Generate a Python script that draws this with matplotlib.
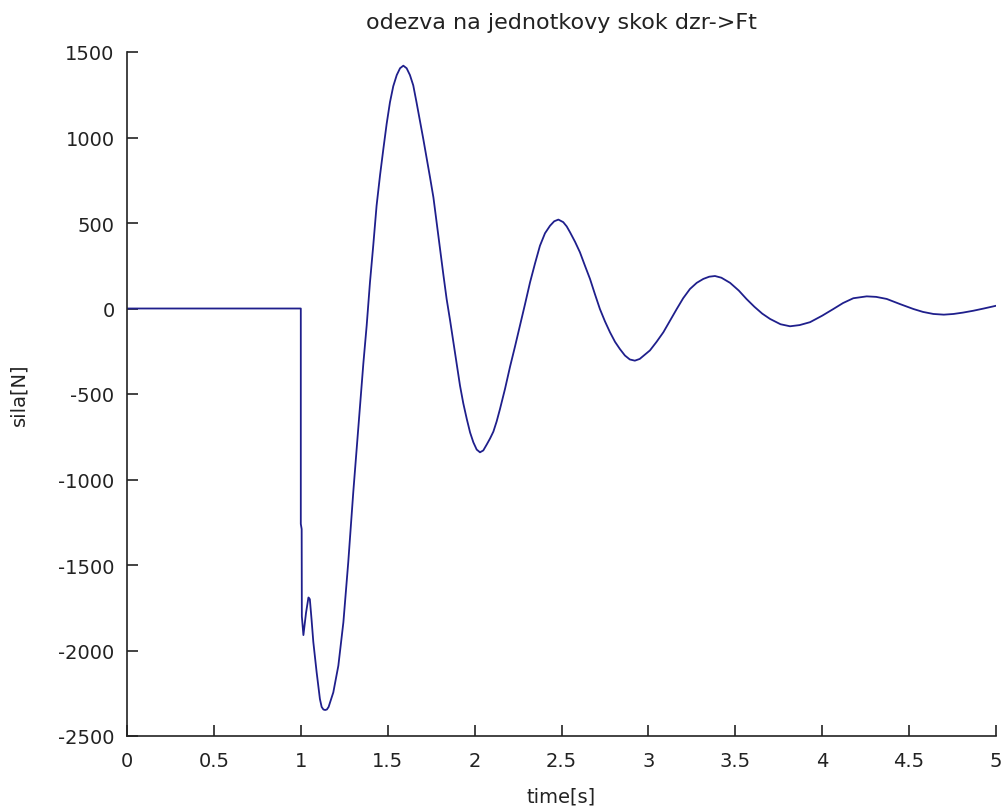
import matplotlib
matplotlib.use("Agg")
import matplotlib.pyplot as plt

# time [s] and force [N]
time_s = [0.0, 1.0, 1.0, 1.005, 1.006, 1.015, 1.03, 1.044, 1.052, 1.062, 1.072,
          1.091, 1.11, 1.12, 1.13, 1.14, 1.15, 1.16, 1.187, 1.216, 1.245, 1.273,
          1.302, 1.332, 1.36, 1.379, 1.398, 1.417, 1.436, 1.456, 1.475, 1.494,
          1.513, 1.532, 1.552, 1.571, 1.59, 1.609, 1.628, 1.647, 1.666, 1.686,
          1.705, 1.724, 1.743, 1.763, 1.782, 1.801, 1.82, 1.839, 1.859, 1.878,
          1.897, 1.916, 1.935, 1.955, 1.974, 1.993, 2.012, 2.031, 2.05, 2.07,
          2.089, 2.108, 2.127, 2.146, 2.175, 2.204, 2.233, 2.261, 2.29, 2.319,
          2.348, 2.376, 2.405, 2.434, 2.458, 2.482, 2.51, 2.53, 2.549, 2.578,
          2.606, 2.635, 2.664, 2.692, 2.721, 2.75, 2.779, 2.808, 2.836, 2.865,
          2.893, 2.922, 2.95, 2.98, 3.009, 3.047, 3.086, 3.125, 3.163, 3.2,
          3.239, 3.278, 3.316, 3.35, 3.383, 3.42, 3.47, 3.52, 3.565, 3.61,
          3.655, 3.7, 3.76, 3.815, 3.87, 3.93, 4.0, 4.064, 4.12, 4.179,
          4.256, 4.31, 4.371, 4.45, 4.525, 4.58, 4.64, 4.7, 4.755, 4.81,
          4.87, 4.93, 5.0]
force_N = [0, 0, -1260, -1290, -1800, -1910, -1780, -1690, -1700, -1820, -1950,
           -2126, -2284, -2330, -2345, -2348, -2345, -2330, -2245, -2089, -1835, -1484,
           -1073, -680, -320, -100, 153, 370, 601, 780, 933, 1080,
           1206, 1300, 1365, 1405, 1420, 1405, 1365, 1305, 1205, 1095,
           990, 880, 770, 650, 500, 348, 200, 56, -70, -198,
           -330, -451, -555, -646, -725, -783, -825, -841, -830, -795,
           -760, -720, -660, -588, -470, -340, -220, -101, 25, 153,
           265, 367, 440, 484, 510, 520, 505, 480, 446, 390,
           329, 250, 173, 85, -3, -75, -139, -195, -237, -275,
           -298, -305, -295, -270, -245, -195, -139, -70, -3, 60,
           114, 150, 173, 186, 190, 180, 150, 105, 55, 10,
           -30, -61, -92, -104, -97, -80, -42, -3, 32, 60,
           71, 68, 56, 25, -3, -20, -32, -36, -32, -24,
           -13, 0, 16]

xticks = [0, 0.5, 1, 1.5, 2, 2.5, 3, 3.5, 4, 4.5, 5]
xticklabels = ["0", "0.5", "1", "1.5", "2", "2.5", "3", "3.5", "4", "4.5", "5"]
yticks = [-2500, -2000, -1500, -1000, -500, 0, 500, 1000, 1500]
yticklabels = ["-2500", "-2000", "-1500", "-1000", "-500", "0", "500", "1000", "1500"]

plt.rcParams['font.family'] = ['DejaVu Sans']

fig = plt.figure(figsize=(10.08, 8.12), dpi=100)
ax = fig.add_axes([127/1008, 1 - 737/812, (996 - 127)/1008, (737 - 53)/812])

ax.plot(time_s, force_N, color='#1f1f8c', linewidth=1.3, solid_joinstyle='round')

ax.set_xlim(0, 5)
ax.set_ylim(-2500, 1500)
ax.set_xticks(xticks)
ax.set_xticklabels(xticklabels)
ax.set_yticks(yticks)
ax.set_yticklabels(yticklabels)

for s in ['top', 'right']:
    ax.spines[s].set_visible(False)
for s in ['left', 'bottom']:
    ax.spines[s].set_linewidth(1.2)
    ax.spines[s].set_color('#222222')

ax.tick_params(direction='in', length=8, width=1.2, colors='#222222',
               labelsize=14)
ax.tick_params(axis='x', pad=11)
ax.tick_params(axis='y', pad=9)

ax.set_title('odezva na jednotkovy skok dzr->Ft', fontsize=16, pad=17, color='#222222')
ax.set_xlabel('time[s]', fontsize=14, labelpad=12, color='#222222')
ax.set_ylabel('sila[N]', fontsize=14, labelpad=21, color='#222222')

fig.savefig('out.png', dpi=100, facecolor='white')
